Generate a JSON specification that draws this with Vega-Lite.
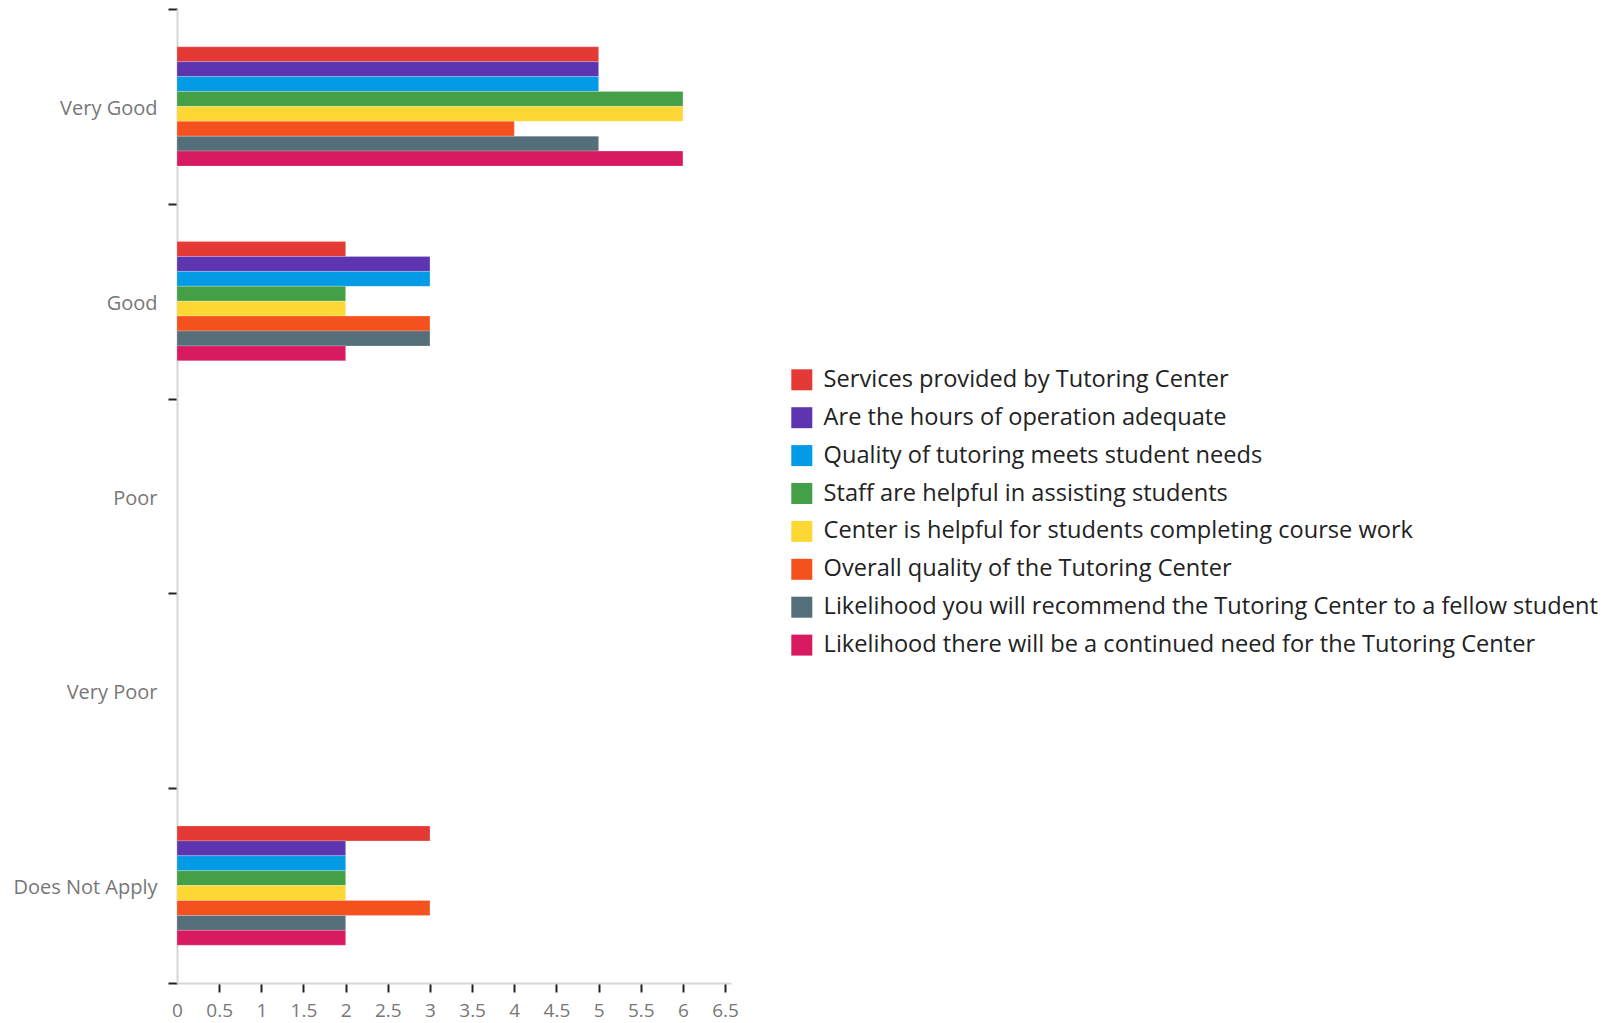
{
  "$schema": "https://vega.github.io/schema/vega-lite/v6.json",
  "autosize": "none",
  "padding": {"left": 177, "top": 9, "right": 893, "bottom": 40},
  "width": 554,
  "height": 974,
  "background": "white",
  "data": {
    "values": [
      {"rating": "Very Good", "question": "Services provided by Tutoring Center", "count": 5},
      {"rating": "Very Good", "question": "Are the hours of operation adequate", "count": 5},
      {"rating": "Very Good", "question": "Quality of tutoring meets student needs", "count": 5},
      {"rating": "Very Good", "question": "Staff are helpful in assisting students", "count": 6},
      {"rating": "Very Good", "question": "Center is helpful for students completing course work", "count": 6},
      {"rating": "Very Good", "question": "Overall quality of the Tutoring Center", "count": 4},
      {"rating": "Very Good", "question": "Likelihood you will recommend the Tutoring Center to a fellow student", "count": 5},
      {"rating": "Very Good", "question": "Likelihood there will be a continued need for the Tutoring Center", "count": 6},
      {"rating": "Good", "question": "Services provided by Tutoring Center", "count": 2},
      {"rating": "Good", "question": "Are the hours of operation adequate", "count": 3},
      {"rating": "Good", "question": "Quality of tutoring meets student needs", "count": 3},
      {"rating": "Good", "question": "Staff are helpful in assisting students", "count": 2},
      {"rating": "Good", "question": "Center is helpful for students completing course work", "count": 2},
      {"rating": "Good", "question": "Overall quality of the Tutoring Center", "count": 3},
      {"rating": "Good", "question": "Likelihood you will recommend the Tutoring Center to a fellow student", "count": 3},
      {"rating": "Good", "question": "Likelihood there will be a continued need for the Tutoring Center", "count": 2},
      {"rating": "Does Not Apply", "question": "Services provided by Tutoring Center", "count": 3},
      {"rating": "Does Not Apply", "question": "Are the hours of operation adequate", "count": 2},
      {"rating": "Does Not Apply", "question": "Quality of tutoring meets student needs", "count": 2},
      {"rating": "Does Not Apply", "question": "Staff are helpful in assisting students", "count": 2},
      {"rating": "Does Not Apply", "question": "Center is helpful for students completing course work", "count": 2},
      {"rating": "Does Not Apply", "question": "Overall quality of the Tutoring Center", "count": 3},
      {"rating": "Does Not Apply", "question": "Likelihood you will recommend the Tutoring Center to a fellow student", "count": 2},
      {"rating": "Does Not Apply", "question": "Likelihood there will be a continued need for the Tutoring Center", "count": 2}
    ]
  },
  "mark": {"type": "bar", "stroke": "white", "strokeOpacity": 0.35, "strokeWidth": 0.6},
  "encoding": {
    "y": {
      "field": "rating",
      "type": "nominal",
      "title": null,
      "scale": {
        "domain": ["Very Good", "Good", "Poor", "Very Poor", "Does Not Apply"],
        "paddingInner": 0,
        "paddingOuter": 0
      },
      "axis": {
        "tickBand": "extent",
        "tickColor": "#222",
        "tickSize": 9,
        "tickWidth": 2,
        "domainColor": "#d6d6d6",
        "domainWidth": 2,
        "labelFont": "Open Sans",
        "labelFontSize": 20,
        "labelColor": "#777",
        "labelPadding": 11,
        "labelOffset": 2,
        "grid": false
      }
    },
    "yOffset": {
      "field": "question",
      "type": "nominal",
      "sort": null,
      "scale": {
        "domain": [
          "_pad1", "_pad2",
          "Services provided by Tutoring Center",
          "Are the hours of operation adequate",
          "Quality of tutoring meets student needs",
          "Staff are helpful in assisting students",
          "Center is helpful for students completing course work",
          "Overall quality of the Tutoring Center",
          "Likelihood you will recommend the Tutoring Center to a fellow student",
          "Likelihood there will be a continued need for the Tutoring Center",
          "_pad3", "_pad4"
        ],
        "paddingInner": 0,
        "paddingOuter": 0.535
      }
    },
    "x": {
      "field": "count",
      "type": "quantitative",
      "title": null,
      "scale": {"domain": [0, 6.57], "nice": false, "zero": true},
      "axis": {
        "values": [0, 0.5, 1, 1.5, 2, 2.5, 3, 3.5, 4, 4.5, 5, 5.5, 6, 6.5],
        "format": "~g",
        "tickColor": "#222",
        "tickSize": 9,
        "tickWidth": 2,
        "tickOpacity": {"condition": {"test": "datum.value === 0", "value": 0}, "value": 1},
        "domainColor": "#d6d6d6",
        "domainWidth": 2,
        "labelFont": "Open Sans",
        "labelFontSize": 19,
        "labelColor": "#777",
        "labelPadding": 9,
        "labelFlush": false,
        "grid": false
      }
    },
    "color": {
      "field": "question",
      "type": "nominal",
      "sort": null,
      "title": null,
      "scale": {
        "domain": [
          "Services provided by Tutoring Center",
          "Are the hours of operation adequate",
          "Quality of tutoring meets student needs",
          "Staff are helpful in assisting students",
          "Center is helpful for students completing course work",
          "Overall quality of the Tutoring Center",
          "Likelihood you will recommend the Tutoring Center to a fellow student",
          "Likelihood there will be a continued need for the Tutoring Center"
        ],
        "range": ["#E53935", "#5E35B1", "#039BE5", "#43A047", "#FDD835", "#F4511E", "#546E7A", "#D81B60"]
      },
      "legend": {
        "orient": "none",
        "legendX": 613,
        "legendY": 359,
        "padding": 0,
        "symbolType": "square",
        "symbolSize": 441,
        "symbolStrokeWidth": 0,
        "labelFont": "Open Sans",
        "labelFontSize": 23.6,
        "labelColor": "#222",
        "labelLimit": 1000,
        "labelOffset": 10,
        "rowPadding": 12.9
      }
    }
  },
  "config": {"view": {"stroke": null}}
}
